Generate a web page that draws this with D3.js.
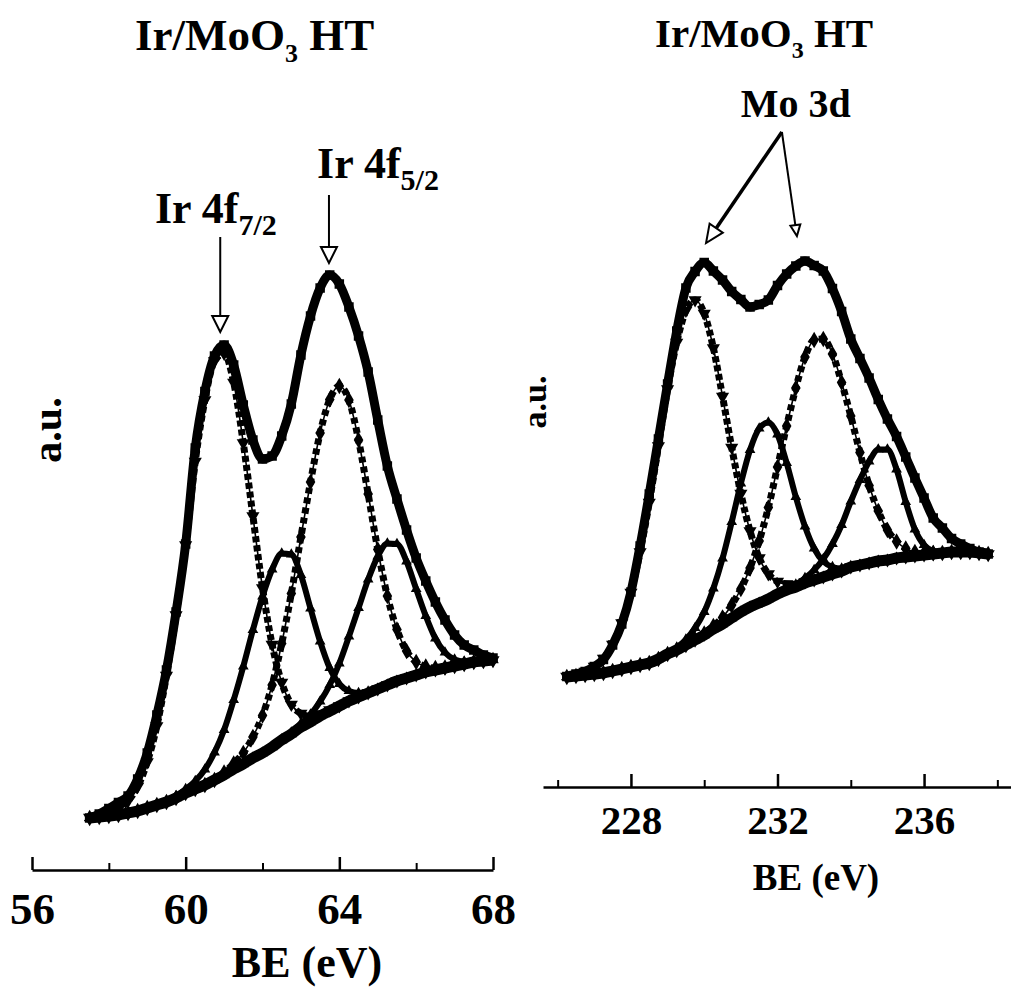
<!DOCTYPE html>
<html>
<head>
<meta charset="utf-8">
<script src="https://cdn.jsdelivr.net/npm/d3@7"></script>
<style>
    body { margin: 0; background: #fff; }
    svg text { font-family: "Liberation Serif", "Times New Roman", serif; font-weight: bold; fill: #000; }
</style>
</head>
<body>
<svg id="chart" width="1011" height="987"></svg>
<script>
// ---- Ir 4f panel (left) ----
var eLeft = [57.5,57.75,58,58.25,58.5,58.75,59,59.25,59.5,59.75,60,60.25,60.5,60.75,61,61.25,61.5,61.75,62,62.25,62.5,62.75,63,63.25,63.5,63.75,64,64.25,64.5,64.75,65,65.25,65.5,65.75,66,66.25,66.5,66.75,67,67.25,67.5,67.75,68];
var bgLeft = [0.4,0.6,0.8,1.0,1.4,1.8,2.4,3.0,3.6,4.4,5.4,6.2,7.0,8.0,9.0,10.2,11.2,12.4,13.4,14.6,16.0,17.2,18.6,19.6,20.8,21.8,22.8,23.8,24.6,25.4,26.2,27.0,27.8,28.4,29.0,29.6,30.0,30.4,30.8,31.2,31.6,31.8,32.0];
var envLeft = [0.4,1.2,2.3,3.5,4.8,8.2,13.4,21.0,30.0,41.6,55.2,74.4,85.7,92.8,95.0,91.0,83.0,76.0,72.2,72.8,76.8,83.2,93.0,100.8,106.4,109.0,107.2,102.6,96.8,89.6,80.0,70.8,64.2,58.0,52.4,47.8,43.6,40.0,37.0,35.0,34.0,33.0,32.4];
var ir1Left = [0.5,0.8,1.3,2.1,3.8,6.7,11.6,18.8,28.9,41.0,55.0,71.7,84.0,91.8,93.3,87.5,75.4,60.8,46.4,35.1,27.5,23.1,21.3,20.7,21.2,22.0,22.8,23.8,24.6,25.4,26.2,27.0,27.8,28.4,29.0,29.6,30.0,30.4,30.8,31.2,31.6,31.8,32.0];
var ir2Left = [0.4,0.6,0.8,1.0,1.4,1.8,2.4,3.0,3.6,4.4,5.4,6.2,7.0,8.0,9.5,11.3,13.4,16.6,20.9,27.0,35.3,45.3,56.6,67.6,77.4,84.1,86.8,84.0,76.0,65.2,54.1,44.8,38.1,33.8,31.6,30.7,30.4,30.5,30.8,31.2,31.6,31.8,32.0];
var ir3Left = [0.4,0.6,0.8,1.0,1.4,1.8,2.4,3.0,3.8,4.8,6.2,7.8,10.1,13.5,18.0,24.0,30.7,38.0,44.7,50.1,53.3,53.1,49.0,42.3,35.7,30.4,27.2,25.8,25.4,25.7,26.2,27.0,27.8,28.4,29.0,29.6,30.0,30.4,30.8,31.2,31.6,31.8,32.0];
var ir4Left = [0.4,0.6,0.8,1.0,1.4,1.8,2.4,3.0,3.6,4.4,5.4,6.2,7.0,8.0,9.0,10.2,11.2,12.4,13.4,14.6,16.1,17.5,19.3,21.1,23.7,27.0,31.3,36.7,42.4,48.1,52.7,55.3,55.2,51.7,46.2,40.8,36.3,33.5,32.1,31.7,31.8,31.8,32.0];

// ---- Mo 3d panel (right) ----
var eRight = [226.25,226.5,226.75,227,227.25,227.5,227.75,228,228.25,228.5,228.75,229,229.25,229.5,229.75,230,230.25,230.5,230.75,231,231.25,231.5,231.75,232,232.25,232.5,232.75,233,233.25,233.5,233.75,234,234.25,234.5,234.75,235,235.25,235.5,235.75,236,236.25,236.5,236.75,237,237.25,237.5,237.75];
var bgRight = [2.6,2.8,3.0,3.2,3.4,3.8,4.2,4.6,5.0,5.4,6.2,7.2,8.0,9.0,10.0,11.0,12.2,13.2,14.4,15.6,16.6,17.4,18.2,19.2,20.0,20.6,21.4,22.0,22.6,23.2,23.8,24.6,25.0,25.4,25.8,26.0,26.4,26.6,26.8,27.0,27.2,27.4,27.6,27.6,27.6,27.4,27.2];
var envRight = [2.7,3.2,3.7,4.7,6.1,9.0,13.2,19.6,28.8,39.2,50.2,61.2,71.8,80.4,83.7,85.5,83.8,82.0,79.7,78.1,76.6,77.1,78.0,80.9,83.2,84.8,85.8,84.9,83.8,80.3,75.7,70.2,66.3,62.4,58.1,54.2,50.7,46.6,42.4,38.4,34.4,32.4,30.3,29.2,28.3,27.6,27.2];
var mo1Right = [2.7,3.1,3.7,4.7,6.3,9.1,13.4,19.5,27.6,37.5,48.8,60.2,69.5,75.9,78.0,75.3,68.4,58.7,48.5,39.3,31.8,26.4,23.2,21.7,21.2,21.1,21.6,22.0,22.6,23.2,23.8,24.6,25.0,25.4,25.8,26.0,26.4,26.6,26.8,27.0,27.2,27.4,27.6,27.6,27.6,27.4,27.2];
var mo2Right = [2.6,2.8,3.0,3.2,3.4,3.8,4.2,4.6,5.0,5.4,6.2,7.2,8.0,9.0,10.1,11.3,12.8,14.5,17.0,20.2,24.4,29.8,36.5,44.6,52.8,60.4,66.6,70.0,70.2,67.2,61.5,54.8,47.5,40.9,35.8,32.0,29.7,28.3,27.6,27.4,27.4,27.4,27.6,27.6,27.6,27.4,27.2];
var mo3Right = [2.6,2.8,3.0,3.2,3.4,3.8,4.2,4.6,5.0,5.4,6.3,7.4,8.5,10.1,12.4,15.6,20.3,26.3,33.6,41.3,48.0,52.3,53.5,51.1,45.4,38.6,32.7,28.3,25.7,24.6,24.3,24.8,25.0,25.4,25.8,26.0,26.4,26.6,26.8,27.0,27.2,27.4,27.6,27.6,27.6,27.4,27.2];
var mo4Right = [2.6,2.8,3.0,3.2,3.4,3.8,4.2,4.6,5.0,5.4,6.2,7.2,8.0,9.0,10.0,11.0,12.2,13.2,14.4,15.6,16.6,17.4,18.2,19.3,20.2,21.1,22.4,24.0,26.2,29.2,33.0,37.7,42.0,45.7,48.1,48.1,44.1,37.6,32.1,29.0,27.8,27.5,27.6,27.6,27.6,27.4,27.2];

// axis ticks
var majorLeft = [56, 60, 64, 68];
var minorLeft = [58, 62, 66];
var majorRight = [228, 232, 236];
var minorRight = [226, 230, 234, 238];

var svg = d3.select("#chart");

// how each kind of curve is drawn
var styles = {
    bg:   {width: 11, dash: null, symbol: d3.symbolTriangle, size: 55, rot: 0},
    env:  {width: 9, dash: null, symbol: d3.symbolSquare, size: 90, rot: 0},
    tri:  {width: 7, dash: "6,3", symbol: d3.symbolTriangle, size: 75, rot: 180},
    dia:  {width: 7, dash: "6,4", symbol: d3.symbolDiamond, size: 80, rot: 0},
    pk:   {width: 6, dash: null, symbol: d3.symbolTriangle, size: 50, rot: 0}
};

function drawPanel(p){
    var x = p.x, y = p.y;
    var g = svg.append("g");

    var line = d3.line()
        .x(function(d){ return x(d[0]); })
        .y(function(d){ return y(d[1]); })
        .curve(d3.curveMonotoneX);

    p.series.forEach(function(s){
        var st = styles[s.style];
        var pts = p.energies.map(function(e, i){ return [e, s.values[i]]; });
        var sg = g.append("g").attr("class", "series");
        sg.append("path")
            .attr("d", line(pts))
            .style("fill", "none")
            .style("stroke", "#000")
            .style("stroke-width", 1.6);
        sg.append("path")
            .attr("d", line(pts))
            .style("fill", "none")
            .style("stroke", "#000")
            .style("stroke-width", st.width)
            .style("stroke-linejoin", "round")
            .style("stroke-dasharray", st.dash);
        sg.selectAll("path.sym").data(pts).enter().append("path")
            .attr("class", "sym")
            .attr("d", d3.symbol().type(st.symbol).size(st.size))
            .attr("transform", function(d){
                return "translate(" + x(d[0]) + "," + y(d[1]) + ") rotate(" + st.rot + ")";
            })
            .style("fill", "#000");
    });

    // axis: ticks point up, labels below
    var ax = g.append("g")
        .attr("transform", "translate(0," + p.axisY + ")")
        .call(d3.axisBottom(x).tickValues(p.major).tickSizeInner(-13).tickSizeOuter(0)
            .tickPadding(p.tickPad).tickFormat(d3.format("d")));
    ax.attr("font-size", p.tickFont);
    ax.selectAll("path, line").style("stroke", "#000").style("stroke-width", 2.5);

    var mx = g.append("g")
        .attr("transform", "translate(0," + p.axisY + ")")
        .call(d3.axisBottom(x).tickValues(p.minor).tickSize(-7).tickFormat(""));
    mx.select(".domain").remove();
    mx.selectAll("line").style("stroke", "#000").style("stroke-width", 2);

    return g;
}

function arrow(g, x1, y1, x2, y2, w, len, half, fill){
    var dx = x2 - x1, dy = y2 - y1;
    var l = Math.sqrt(dx*dx + dy*dy);
    var ux = dx / l, uy = dy / l;
    var bx = x2 - ux*len, by = y2 - uy*len;
    g.append("line")
        .attr("x1", x1).attr("y1", y1).attr("x2", bx).attr("y2", by)
        .style("stroke", "#000").style("stroke-width", w);
    g.append("path")
        .attr("d", "M" + (bx - uy*half) + "," + (by + ux*half) + " L" + x2 + "," + y2 +
            " L" + (bx + uy*half) + "," + (by - ux*half) + " Z")
        .style("fill", fill).style("stroke", "#000").style("stroke-width", 2);
}

// ---------- left panel ----------
var xL = d3.scaleLinear().domain([56, 68]).range([32, 493]);
var yL = d3.scaleLinear().domain([0, 110]).range([820, 270]);

var gL = drawPanel({
    x: xL, y: yL, energies: eLeft, axisY: 870,
    major: majorLeft, minor: minorLeft, tickPad: 22, tickFont: 45,
    series: [
        {values: bgLeft, style: "bg"},
        {values: ir3Left, style: "pk"},
        {values: ir4Left, style: "pk"},
        {values: ir1Left, style: "tri"},
        {values: ir2Left, style: "dia"},
        {values: envLeft, style: "env"}
    ]
});

arrow(gL, xL(60.9), yL(116.6), xL(60.9), yL(97.6), 2, 16, 8, "#fff");
arrow(gL, xL(63.73), yL(125), xL(63.73), yL(111.4), 2, 16, 8, "#fff");

var lab1 = gL.append("text").attr("x", xL(59.2)).attr("y", yL(119.4)).attr("font-size", 44);
lab1.append("tspan").text("Ir 4f");
lab1.append("tspan").attr("font-size", 30).attr("dy", 12).text("7/2");
var lab2 = gL.append("text").attr("x", xL(63.42)).attr("y", yL(128.4)).attr("font-size", 44);
lab2.append("tspan").text("Ir 4f");
lab2.append("tspan").attr("font-size", 30).attr("dy", 12).text("5/2");

var tL = svg.append("text").attr("x", 135).attr("y", 50).attr("font-size", 45);
tL.append("tspan").text("Ir/MoO");
tL.append("tspan").attr("font-size", 26).attr("dy", 12).text("3");
tL.append("tspan").attr("dy", -12).text(" HT");

svg.append("text").attr("x", 307).attr("y", 977).attr("font-size", 44)
    .attr("text-anchor", "middle").text("BE (eV)");
svg.append("text").attr("transform", "translate(61,430) rotate(-90)")
    .attr("font-size", 42).attr("text-anchor", "middle").text("a.u.");

// ---------- right panel ----------
var xR = d3.scaleLinear().domain([225.6, 238.4]).range([543, 1012]);
var yR = d3.scaleLinear().domain([0, 90]).range([690, 240]);

var gR = drawPanel({
    x: xR, y: yR, energies: eRight, axisY: 787,
    major: majorRight, minor: minorRight, tickPad: 18, tickFont: 41,
    series: [
        {values: bgRight, style: "bg"},
        {values: mo3Right, style: "pk"},
        {values: mo4Right, style: "pk"},
        {values: mo1Right, style: "tri"},
        {values: mo2Right, style: "dia"},
        {values: envRight, style: "env"}
    ]
});

arrow(gR, xR(232.12), yR(111.6), xR(230.05), yR(89.4), 3.5, 18, 8, "#fff");
arrow(gR, xR(232.12), yR(111.6), xR(232.53), yR(90.8), 2, 11, 5, "#fff");

gR.append("text").attr("x", xR(232.5)).attr("y", yR(114.6)).attr("font-size", 40)
    .attr("text-anchor", "middle").text("Mo 3d");

var tR = svg.append("text").attr("x", 655).attr("y", 47).attr("font-size", 41);
tR.append("tspan").text("Ir/MoO");
tR.append("tspan").attr("font-size", 24).attr("dy", 11).text("3");
tR.append("tspan").attr("dy", -11).text(" HT");

svg.append("text").attr("x", 816).attr("y", 890).attr("font-size", 37)
    .attr("text-anchor", "middle").text("BE (eV)");
svg.append("text").attr("transform", "translate(546,402) rotate(-90)")
    .attr("font-size", 34).attr("text-anchor", "middle").text("a.u.");
</script>
</body>
</html>
